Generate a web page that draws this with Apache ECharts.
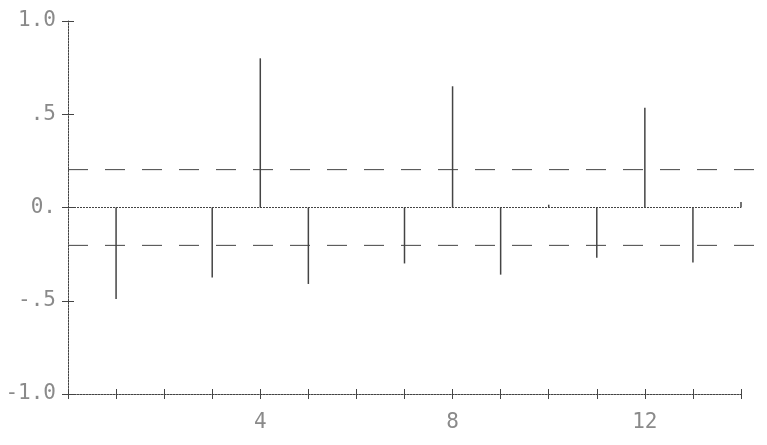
<!DOCTYPE html>
<html><head><meta charset="utf-8">
<script src="https://cdn.jsdelivr.net/npm/echarts@6/dist/echarts.min.js"></script>
<style>html,body{margin:0;padding:0;background:#fff}#c{width:767px;height:445px}</style>
</head><body><div id="c"></div>
<script>
var lags = [1,2,3,4,5,6,7,8,9,10,11,12,13,14];
var acf = [-0.49,0.0,-0.375,0.80,-0.41,0.0,-0.30,0.65,-0.36,0.015,-0.27,0.535,-0.295,0.03];
var bandUpper = 0.203;
var bandLower = -0.203;
var bandStart = 0;
var bandEnd = 14.45;
var yTickLabels = {'1':'1.0','0.5':'.5','0':'0.','-0.5':'-.5','-1':'-1.0'};
var xLabelAt = [4,8,12];

var lineColor = '#444';
var textColor = '#8a8a8a';
var labelFont = 'DejaVu Sans Mono';
var chart = echarts.init(document.getElementById('c'));
var axisCommon = {min:0,max:14,interval:1,gridIndex:0};
chart.setOption({
  animation:false,
  grid:[{left:68,right:26,top:21,bottom:51},{left:68,right:5,top:21,bottom:51}],
  xAxis:[
    Object.assign({type:'value',position:'bottom',
      axisLine:{show:true,onZero:false,lineStyle:{color:lineColor,width:1,type:[2,1]}},
      axisTick:{show:true,length:5,lineStyle:{color:lineColor}},
      splitLine:{show:false},
      axisLabel:{margin:18,color:textColor,fontFamily:labelFont,fontSize:21,
        formatter:function(v){return xLabelAt.indexOf(v)>=0?String(v):'';}}
    },axisCommon),
    Object.assign({type:'value',position:'bottom',
      axisLine:{show:false,onZero:false},
      axisTick:{show:true,inside:true,length:5,lineStyle:{color:lineColor}},
      splitLine:{show:false},axisLabel:{show:false}
    },axisCommon),
    {type:'value',gridIndex:1,min:bandStart,max:bandEnd,show:false}
  ],
  yAxis:[
    {type:'value',min:-1,max:1,interval:0.5,
      axisLine:{show:true,onZero:false,lineStyle:{color:lineColor,width:1,type:[2,1]}},
      axisTick:{show:true,length:6,lineStyle:{color:lineColor}},
      splitLine:{show:false},
      axisLabel:{margin:12,color:textColor,fontFamily:labelFont,fontSize:21,
        formatter:function(v){var k=String(v);return yTickLabels[k]!==undefined?yTickLabels[k]:'';}}
    },
    {type:'value',min:-1,max:1,interval:0.5,position:'left',
      axisLine:{show:false,onZero:false},
      axisTick:{show:true,inside:true,length:6,lineStyle:{color:lineColor}},
      splitLine:{show:false},axisLabel:{show:false}
    },
    {type:'value',gridIndex:1,min:-1,max:1,show:false}
  ],
  series:[{
    type:'bar',
    barWidth:1.5,
    itemStyle:{color:lineColor},
    data:lags.map(function(l,i){return [l,acf[i]];}),
    markLine:{
      silent:true,symbol:'none',label:{show:false},
      data:[
        [{coord:[0,0],lineStyle:{color:lineColor,width:1,type:[2,1]}},{coord:[14,0]}]
      ]
    }
  },{
    type:'line',xAxisIndex:2,yAxisIndex:2,symbol:'none',silent:true,
    lineStyle:{color:lineColor,width:1,type:[20,17]},
    data:[[bandStart,bandUpper],[bandEnd,bandUpper]]
  },{
    type:'line',xAxisIndex:2,yAxisIndex:2,symbol:'none',silent:true,
    lineStyle:{color:lineColor,width:1,type:[20,17]},
    data:[[bandStart,bandLower],[bandEnd,bandLower]]
  }]
});
</script></body></html>
